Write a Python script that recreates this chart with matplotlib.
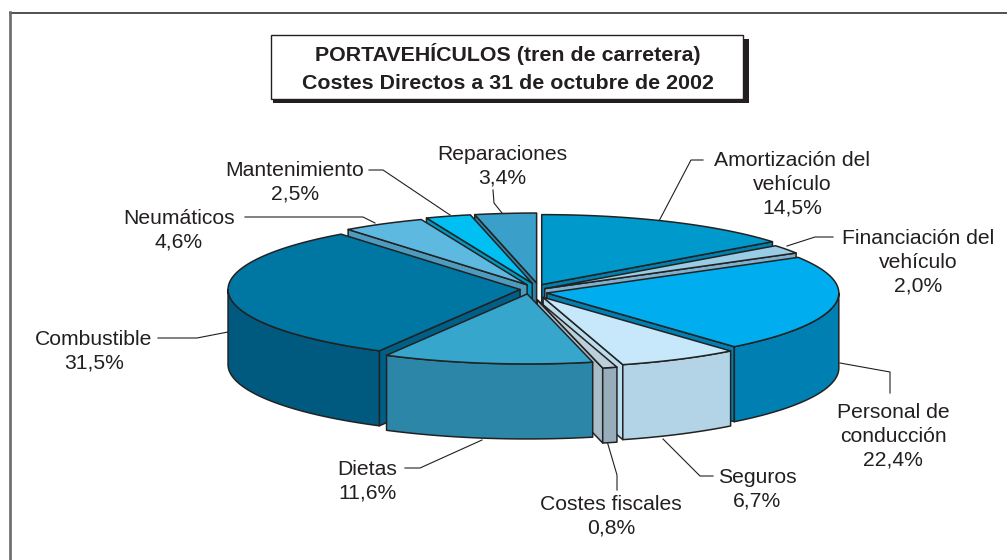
import numpy as np
import matplotlib
matplotlib.use("Agg")
import matplotlib.pyplot as plt
from matplotlib.patches import Polygon, Rectangle

# datos, en el sentido de las agujas del reloj desde las 12
conceptos = ["Amortización del\nvehículo", "Financiación del\nvehículo", "Personal de\nconducción",
             "Seguros", "Costes fiscales", "Dietas", "Combustible", "Neumáticos",
             "Mantenimiento", "Reparaciones"]
valores = [14.5, 2.0, 22.4, 6.7, 0.8, 11.6, 31.5, 4.6, 2.5, 3.4]

color_top = ["#0099CC", "#99CCE5", "#00AEEF", "#C7E8FB", "#BCD0DC",
             "#36A6CC", "#0076A3", "#5EB9E0", "#00BFF3", "#3AA0C9"]
color_lado = ["#0080AE", "#7FB0CC", "#0080B2", "#B2D4E6", "#97ADBA",
              "#2B86A8", "#005A80", "#4D9CC0", "#0099C4", "#2D84A6"]
color_corte = ["#0080AE", "#7FB0CC", "#0080B2", "#BBDCEC", "#A9BDC9",
               "#2B86A8", "#005F87", "#4D9CC0", "#0099C4", "#2D84A6"]

# geometria del pastel en pixeles
cx, cy = 533, 289
rx, ry = 292, 70
alto = 75
sep_x, sep_y = 13, 6
# correccion de la separacion de cada porcion
ajuste_x = [3, 1, 1, 4, 1, -4, 0, 0.5, 3, 5]
ajuste_y = [1, 3, 3, 3, 5, -1, 0, 1, 0, 0]

# etiqueta: centro del texto
pos_texto = [(792, 184), (918, 262), (893, 436), (757, 489), (611, 516),
             (367, 481), (94, 351), (179, 230), (295, 182), (502, 166)]
# lineas guia
guias = [[(659, 221), (691, 160), (703, 160)],
         [(787, 246), (815, 237), (833, 237)],
         [(840, 363), (890, 372), (890, 393)],
         [(663, 439), (700, 476), (713, 476)],
         [(607, 441), (617, 475), (617, 490)],
         [(482, 440), (420, 468), (405, 468)],
         [(228, 332), (197, 338), (158, 338)],
         [(375, 223), (363, 217), (245, 217)],
         [(450, 215), (383, 170), (369, 170)],
         [(502, 213), (494, 203), (493, 190)]]

tinta = "#231F20"
plt.rcParams["font.family"] = ["Liberation Sans", "DejaVu Sans"]

fig = plt.figure(figsize=(10.07, 5.6), dpi=100)
ax = fig.add_axes([0, 0, 1, 1])
ax.set_xlim(0, 1007)
ax.set_ylim(560, 0)
ax.axis("off")

# marco exterior: solo arriba y a la izquierda llegan a verse
ax.plot([10, 1007], [12.5, 12.5], color=tinta, lw=1.1, zorder=0)
ax.plot([10, 10], [12, 560], color="#6A6A6A", lw=1.9, zorder=0)

# caja del titulo con sombra
ax.add_patch(Rectangle((273, 39), 476, 64, fc=tinta, ec="none", zorder=1))
ax.add_patch(Rectangle((271, 35), 472, 64, fc="white", ec=tinta, lw=1.0, zorder=2))
ax.text(507.5, 68, "PORTAVEHÍCULOS (tren de carretera)\nCostes Directos a 31 de octubre de 2002",
        ha="center", va="center", fontsize=15.4, fontweight="bold", color=tinta, linespacing=1.55, zorder=3)

total = sum(valores)
angulos = np.cumsum([0] + valores) / total * 2 * np.pi


def punto(ox, oy, t, z=0):
  return ox + rx * np.sin(t), oy - ry * np.cos(t) + z


def arco(ox, oy, a, b, z=0):
  ts = np.linspace(a, b, max(2, int((b - a) * 60)))
  return np.column_stack([ox + rx * np.sin(ts), oy - ry * np.cos(ts) + z])


medios = (angulos[:-1] + angulos[1:]) / 2
orden = np.argsort(-np.cos(medios))   # de atras hacia delante

z = 5
for i in orden:
  a, b, m = angulos[i], angulos[i + 1], medios[i]
  ox = cx + sep_x * np.sin(m) + ajuste_x[i]
  oy = cy - sep_y * np.cos(m) + ajuste_y[i]
  estilo = dict(ec="#222222", lw=1.1, joinstyle="round")

  # cara de corte visible
  if a >= np.pi:
    t = a
  elif b <= np.pi:
    t = b
  else:
    t = None
  if t is not None:
    p = punto(ox, oy, t)
    ax.add_patch(Polygon([(ox, oy), p, (p[0], p[1] + alto), (ox, oy + alto)], fc=color_corte[i], zorder=z, **estilo))
    z += 1

  # pared exterior, solo la mitad delantera
  ini, fin = max(a, np.pi / 2), min(b, 3 * np.pi / 2)
  if fin > ini:
    arriba = arco(ox, oy, ini, fin)
    abajo = arco(ox, oy, ini, fin, alto)[::-1]
    ax.add_patch(Polygon(np.vstack([arriba, abajo]), fc=color_lado[i], zorder=z, **estilo))
    z += 1

  # tapa
  ax.add_patch(Polygon(np.vstack([[(ox, oy)], arco(ox, oy, a, b)]), fc=color_top[i], zorder=z, **estilo))
  z += 1

# lineas guia y etiquetas
for g in guias:
  g = np.array(g)
  ax.plot(g[:, 0], g[:, 1], color=tinta, lw=0.8, zorder=1)

for nombre, valor, (tx, ty) in zip(conceptos, valores, pos_texto):
  ax.text(tx, ty, nombre + "\n" + f"{valor:.1f}%".replace(".", ","), ha="center", va="center",
          fontsize=15.2, color=tinta, linespacing=1.3, zorder=100)

fig.savefig("out.png", dpi=100)
